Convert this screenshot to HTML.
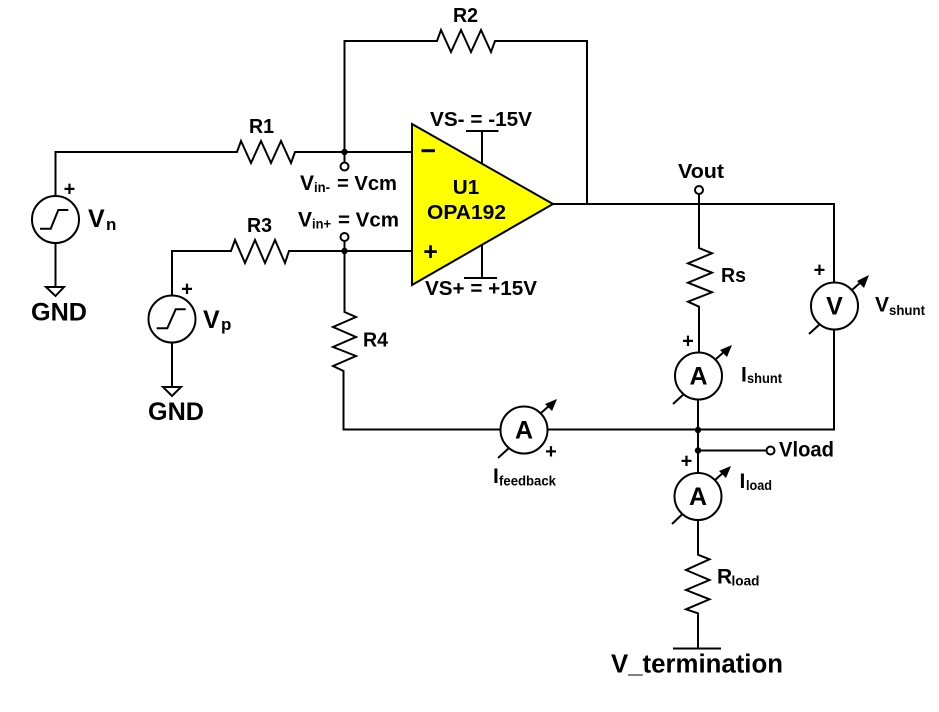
<!DOCTYPE html>
<html>
<head>
<meta charset="utf-8">
<style>
html,body{margin:0;padding:0;background:#fff;}
svg{display:block;filter:blur(0.35px);}
text{font-family:"Liberation Sans",sans-serif;font-weight:bold;fill:#000;}
.w{fill:none;stroke:#000;stroke-width:2;stroke-linejoin:miter;}
.c{fill:#fff;stroke:#000;stroke-width:2;}
.d{fill:#000;stroke:none;}
</style>
</head>
<body>
<svg width="939" height="712" viewBox="0 0 939 712" xmlns="http://www.w3.org/2000/svg">
<rect width="939" height="712" fill="#fff"/>

<!-- wires -->
<path class="w" d="M344.500 152V41H437L441 30L451 52L461 30L471 52L481 30L491 52L495 41H587V204"/>
<path class="w" d="M55.500 196V152H237L241 141L251 163L261 141L271 163L281 141L291 163L295 152H412"/>
<path class="w" d="M344.500 152V162"/>
<path class="w" d="M172 296V251H231L235 240L245 263L255 240L265 263L275 240L285 263L289 251H412"/>
<path class="w" d="M344.500 241V312L356 317L333 327L356 337L333 347L356 356L333 366L343.500 371V429.500H500"/>
<path class="w" d="M548 429.500H834V330"/>
<path class="w" d="M834 282V204H552"/>
<path class="w" d="M55.500 243V287M172 342V387"/>
<path class="w" d="M699 194V248L712 253.300L688 263.300L712 272.700L688 282.700L712 292.300L688 301.700L699 306.700V352"/>
<path class="w" d="M698 400V473"/>
<path class="w" d="M698 450.500H766"/>
<path class="w" d="M698 520V554.700L709.500 559.300L686 570L709.500 580L686 590L709.500 599.300L686 609.300L698 613.300V648"/>
<path class="w" d="M673 648.500H721"/>

<!-- supply rails -->
<path class="w" d="M482 131V163M466 131H498.500"/>
<path class="w" d="M482 245V278M464 278H497"/>

<!-- op amp -->
<polygon points="412,124 412,285 553,204" fill="#ffff00" stroke="#000" stroke-width="2"/>
<path d="M421.500 150.700H435" fill="none" stroke="#000" stroke-width="3"/>
<text x="430.500" y="260" font-size="25" text-anchor="middle">+</text>
<text x="466" y="194" font-size="20.700" text-anchor="middle">U1</text>
<text x="427" y="219" font-size="20.700" textLength="79" lengthAdjust="spacingAndGlyphs">OPA192</text>

<!-- grounds -->
<polygon class="c" points="46,287 64,287 55.500,296"/>
<polygon class="c" points="163,387 181,387 172,396"/>

<!-- junctions and terminals -->
<circle class="d" cx="344.500" cy="152" r="3.200"/>
<circle class="d" cx="344.500" cy="251" r="3.200"/>
<circle class="d" cx="698" cy="430" r="3.200"/>
<circle class="d" cx="698" cy="450.500" r="3.200"/>
<circle class="c" cx="344.500" cy="166.500" r="4"/>
<circle class="c" cx="344.500" cy="237" r="4"/>
<circle class="c" cx="699" cy="190" r="4"/>
<circle class="c" cx="770.500" cy="450.500" r="4"/>

<!-- sources -->
<circle class="c" cx="55.500" cy="219.500" r="23.500"/>
<path class="w" d="M40 228.700H50.700L58.300 210H68.300"/>
<circle class="c" cx="172" cy="319" r="23.500"/>
<path class="w" d="M156.700 328.300H167.300L175.700 309.300H185.700"/>

<!-- meters -->
<g>
<circle class="c" cx="524" cy="430" r="23.500"/>
<text x="524" y="438.500" font-size="25" text-anchor="middle">A</text>
<path class="w" d="M498 458L509 448M541 413L550 405"/>
<polygon class="d" points="557,399 552,411 545,404"/>
</g>
<g>
<circle class="c" cx="698.500" cy="376" r="23.500"/>
<text x="698.500" y="384.500" font-size="25" text-anchor="middle">A</text>
<path class="w" d="M673 404L684 394M716 359L725 351"/>
<polygon class="d" points="732,345 727,357 720,350"/>
</g>
<g>
<circle class="c" cx="698" cy="496.500" r="23.500"/>
<text x="698" y="505" font-size="25" text-anchor="middle">A</text>
<path class="w" d="M672 524L682.500 514M715 480L724 472"/>
<polygon class="d" points="731,466 726,478 719,471"/>
</g>
<g>
<circle class="c" cx="834.500" cy="306" r="23.500"/>
<text x="834.500" y="314.500" font-size="25" text-anchor="middle">V</text>
<path class="w" d="M809 334L820 324M852 290L861 282"/>
<polygon class="d" points="869,275 864,288 857,281"/>
</g>

<!-- plus signs -->
<text x="69.500" y="195.600" font-size="20" text-anchor="middle">+</text>
<text x="187" y="295.600" font-size="20" text-anchor="middle">+</text>
<text x="688" y="347.600" font-size="20" text-anchor="middle">+</text>
<text x="819.500" y="276.600" font-size="20" text-anchor="middle">+</text>
<text x="551" y="458.200" font-size="20" text-anchor="middle">+</text>
<text x="686.500" y="467.600" font-size="20" text-anchor="middle">+</text>

<!-- labels -->
<text x="453" y="22" font-size="20.700" textLength="25" lengthAdjust="spacingAndGlyphs">R2</text>
<text x="249" y="133" font-size="20.700" textLength="25" lengthAdjust="spacingAndGlyphs">R1</text>
<text x="247" y="232" font-size="20.700" textLength="25" lengthAdjust="spacingAndGlyphs">R3</text>
<text x="363" y="346.500" font-size="20.700" textLength="25" lengthAdjust="spacingAndGlyphs">R4</text>
<text x="721" y="282" font-size="20.700" textLength="25" lengthAdjust="spacingAndGlyphs">Rs</text>

<text x="430" y="126" font-size="20.700" textLength="102" lengthAdjust="spacingAndGlyphs">VS- = -15V</text>
<text x="425" y="295" font-size="20.700" textLength="112" lengthAdjust="spacingAndGlyphs">VS+ = +15V</text>
<text x="678" y="178" font-size="20.700" textLength="46" lengthAdjust="spacingAndGlyphs">Vout</text>
<text x="779" y="456.500" font-size="21.500" textLength="55" lengthAdjust="spacingAndGlyphs">Vload</text>

<text x="300" y="190" font-size="21">V</text>
<text x="314" y="192" font-size="14" textLength="16" lengthAdjust="spacingAndGlyphs">in-</text>
<text x="337" y="190" font-size="20.700" textLength="60" lengthAdjust="spacingAndGlyphs">= Vcm</text>
<text x="298" y="226.500" font-size="21">V</text>
<text x="312" y="228.500" font-size="14" textLength="19" lengthAdjust="spacingAndGlyphs">in+</text>
<text x="338" y="226.500" font-size="20.700" textLength="61" lengthAdjust="spacingAndGlyphs">= Vcm</text>

<text x="88" y="227" font-size="25">V</text>
<text x="106" y="230" font-size="17">n</text>
<text x="203" y="328" font-size="25">V</text>
<text x="221" y="330" font-size="17">p</text>

<text x="31" y="320.500" font-size="25" textLength="56" lengthAdjust="spacingAndGlyphs">GND</text>
<text x="148" y="420" font-size="25" textLength="56" lengthAdjust="spacingAndGlyphs">GND</text>

<text x="741" y="381.500" font-size="21">I</text>
<text x="747" y="383" font-size="14" textLength="35" lengthAdjust="spacingAndGlyphs">shunt</text>
<text x="875" y="311.500" font-size="21">V</text>
<text x="889" y="315" font-size="14" textLength="36" lengthAdjust="spacingAndGlyphs">shunt</text>
<text x="493" y="483" font-size="21">I</text>
<text x="499" y="485.500" font-size="14" textLength="57" lengthAdjust="spacingAndGlyphs">feedback</text>
<text x="739.500" y="488" font-size="21">I</text>
<text x="746" y="490" font-size="14" textLength="26" lengthAdjust="spacingAndGlyphs">load</text>
<text x="717" y="583.500" font-size="21">R</text>
<text x="731.500" y="585.500" font-size="14" textLength="28" lengthAdjust="spacingAndGlyphs">load</text>

<text x="611" y="672.500" font-size="25.500" textLength="172" lengthAdjust="spacingAndGlyphs">V_termination</text>
</svg>
</body>
</html>
